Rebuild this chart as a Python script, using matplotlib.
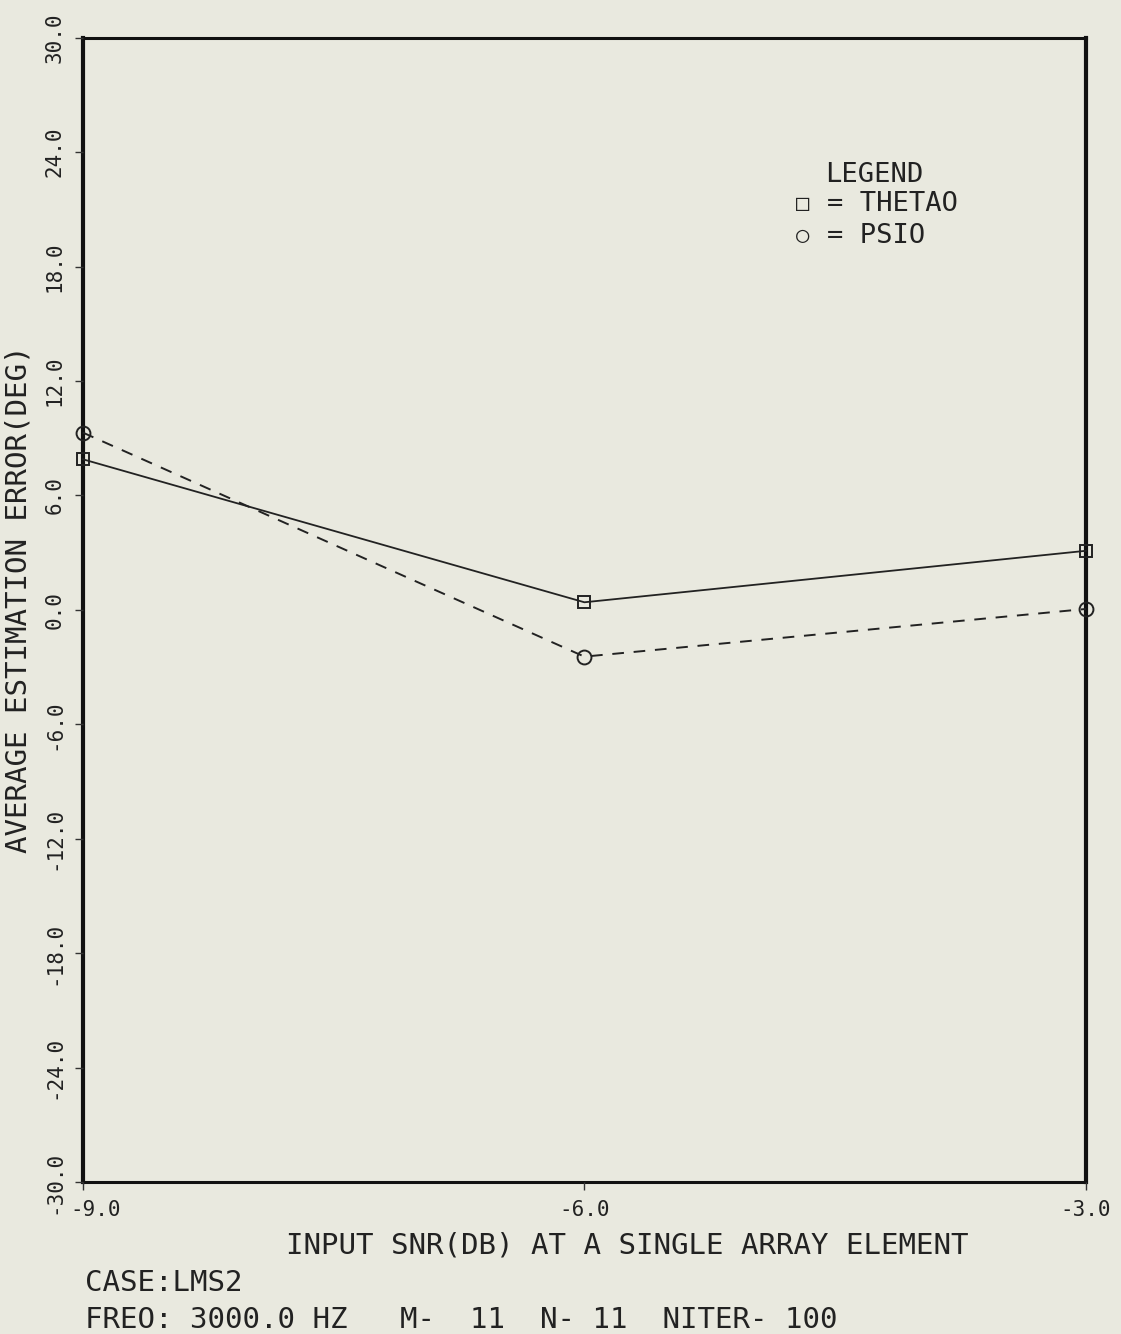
import numpy as np
import matplotlib
matplotlib.use("Agg")
import matplotlib.pyplot as plt
import matplotlib.transforms as mtransforms

# values
snr_db = [-9.0, -6.0, -3.0]
theta0_err = [7.9, 0.4, 3.1]
psi0_err = [9.3, -2.45, 0.05]

xticks = [-9.0, -6.0, -3.0]
yticks = np.arange(-30.0, 30.1, 6.0)

bg = '#e9e9df'
ink = '#222222'
plt.rcParams['font.family'] = ['DejaVu Sans Mono', 'DejaVu Sans']

fig = plt.figure(figsize=(11.21, 13.34), dpi=100, facecolor=bg)
ax = fig.add_axes([0.0738, 0.1139, 0.8950, 0.8578])
ax.set_facecolor(bg)

ax.plot(snr_db, theta0_err, '-', color=ink, lw=1.3,
        marker='s', ms=9, mfc='none', mec=ink, mew=1.4,
        clip_on=False, zorder=3)
ax.plot(snr_db, psi0_err, '--', color=ink, lw=1.4, dashes=(6, 5),
        marker='o', ms=10, mfc='none', mec=ink, mew=1.4,
        clip_on=False, zorder=3)

ax.set_xlim(-9.0, -3.0)
ax.set_ylim(-30.0, 30.0)
ax.set_xticks(xticks)
ax.set_xticklabels(['%.1f' % v for v in xticks], fontsize=15)
ax.set_yticks(yticks)
ax.set_yticklabels(['%.1f' % v for v in yticks], fontsize=15,
                   rotation=90, va='center')
ax.tick_params(axis='both', direction='out', length=6, width=1,
               color='#333333', pad=7, labelcolor=ink)

# first x label sits a little right of its tick on the original
lbl = ax.get_xticklabels()[0]
lbl.set_transform(lbl.get_transform() +
                  mtransforms.ScaledTranslation(0.13, 0, fig.dpi_scale_trans))

for side, spine in ax.spines.items():
    spine.set_color('#111111')
    spine.set_linewidth(3 if side in ('left', 'right') else 2.2)
    spine.set_zorder(1)

ax.set_ylabel('AVERAGE ESTIMATION ERROR(DEG)', fontsize=21, color=ink)
ax.yaxis.set_label_coords(-0.050, 0.509)
ax.set_xlabel('INPUT SNR(DB) AT A SINGLE ARRAY ELEMENT', fontsize=21,
              color=ink)
ax.xaxis.set_label_coords(0.5425, -0.043)

# legend block drawn as text, as on the plotter output
ax.text(0.740, 0.880, 'LEGEND', transform=ax.transAxes, fontsize=19.5,
        ha='left', va='center', color=ink)
ax.text(0.711, 0.855, '\u25a1', transform=ax.transAxes, fontsize=16,
        ha='left', va='center', color=ink)
ax.text(0.742, 0.855, '= THETAO', transform=ax.transAxes, fontsize=19.5,
        ha='left', va='center', color=ink)
ax.text(0.711, 0.827, '\u25cb', transform=ax.transAxes, fontsize=16,
        ha='left', va='center', color=ink)
ax.text(0.742, 0.827, '= PSIO', transform=ax.transAxes, fontsize=19.5,
        ha='left', va='center', color=ink)

fig.text(0.076, 0.038, 'CASE:LMS2', fontsize=21, ha='left', va='center',
         color=ink)
fig.text(0.076, 0.0105, 'FREO: 3000.0 HZ   M-  11  N- 11  NITER- 100',
         fontsize=21, ha='left', va='center', color=ink)

fig.savefig('out.png', dpi=100, facecolor=bg)
